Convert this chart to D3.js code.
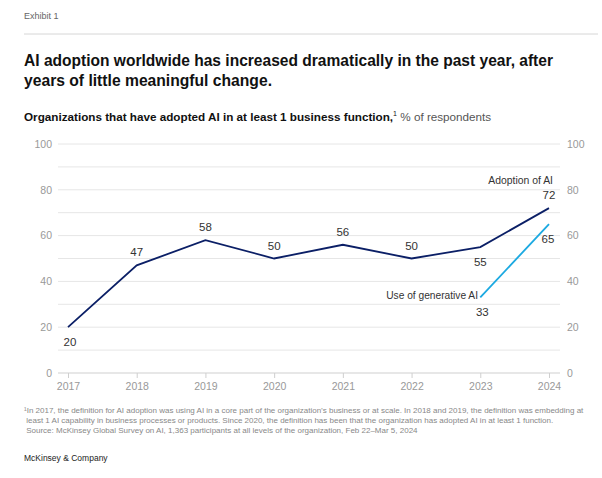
<!DOCTYPE html>
<html>
<head>
<meta charset="utf-8">
<script src="https://cdn.jsdelivr.net/npm/d3@7"></script>
<style>
  body { margin: 0; background: #fff; }
  svg { font-family: "Liberation Sans", Arial, sans-serif; }
</style>
</head>
<body>
<script>
// values
var years = [2017, 2018, 2019, 2020, 2021, 2022, 2023, 2024];
var adoption = [20, 47, 58, 50, 56, 50, 55, 72];
var genYears = [2023, 2024];
var genAI = [33, 65];
var yTicks = [0, 20, 40, 60, 80, 100];
var gridVals = [10, 20, 30, 40, 50, 60, 70, 80, 90, 100];
// where each value label sits: above or below the point
var adoptPos = ["below", "above", "above", "above", "above", "above", "below", "above"];
var genPos = ["below", "below"];

var W = 602, H = 478;
var svg = d3.select("body").append("svg").attr("width", W).attr("height", H);

var x = d3.scalePoint().domain(years).range([68, 549]);
var y = d3.scaleLinear().domain([0, 100]).range([373, 144]);

// header
svg.append("text").attr("x", 24).attr("y", 19).attr("font-size", 9).attr("fill", "#666").text("Exhibit 1");
svg.append("line").attr("x1", 24).attr("x2", 598).attr("y1", 34).attr("y2", 34).attr("stroke", "#d6d6d6");

var title = svg.append("text").attr("x", 24).attr("font-size", 16.5).attr("font-weight", "bold").attr("fill", "#111");
title.append("tspan").attr("x", 24).attr("y", 66).attr("textLength", 529).attr("lengthAdjust", "spacingAndGlyphs")
  .text("AI adoption worldwide has increased dramatically in the past year, after");
title.append("tspan").attr("x", 24).attr("y", 86).attr("textLength", 248).attr("lengthAdjust", "spacingAndGlyphs")
  .text("years of little meaningful change.");

var sub = svg.append("text").attr("x", 24).attr("y", 121).attr("font-size", 11.7).attr("fill", "#111");
sub.append("tspan").attr("font-weight", "bold").text("Organizations that have adopted AI in at least 1 business function,");
sub.append("tspan").attr("font-size", 7).attr("dy", -5).text("1");
sub.append("tspan").attr("dy", 5).attr("fill", "#555").text(" % of respondents");

// grid
svg.append("g").selectAll("line").data(gridVals).join("line")
  .attr("x1", 58).attr("x2", 560)
  .attr("y1", function(d) { return y(d); }).attr("y2", function(d) { return y(d); })
  .attr("stroke", "#e6e6e6");

// y axes, left and right
var yl = svg.append("g").attr("transform", "translate(58,0)")
  .call(d3.axisLeft(y).tickValues(yTicks).tickSize(0).tickPadding(6));
var yr = svg.append("g").attr("transform", "translate(560,0)")
  .call(d3.axisRight(y).tickValues(yTicks).tickSize(0).tickPadding(7));
[yl, yr].forEach(function(g) {
  g.select(".domain").remove();
  g.selectAll("text").attr("font-size", 10.5).attr("fill", "#999").attr("font-family", "Liberation Sans, Arial, sans-serif");
});

// x axis
var xa = svg.append("g").attr("transform", "translate(0," + y(0) + ")")
  .call(d3.axisBottom(x).tickSize(5).tickPadding(5).tickFormat(d3.format("d")));
xa.select(".domain").attr("d", "M58,0H560").attr("stroke", "#cfcfcf");
xa.selectAll(".tick line").attr("stroke", "#cfcfcf");
xa.selectAll("text").attr("font-size", 10.5).attr("fill", "#999").attr("font-family", "Liberation Sans, Arial, sans-serif");

var line = d3.line().x(function(d) { return x(d[0]); }).y(function(d) { return y(d[1]); });

var adoptData = years.map(function(yr, i) { return [yr, adoption[i]]; });
var genData = genYears.map(function(yr, i) { return [yr, genAI[i]]; });

svg.append("path").datum(adoptData).attr("d", line).attr("fill", "none")
  .attr("stroke", "#0b1f66").attr("stroke-width", 1.8);
svg.append("path").datum(genData).attr("d", line).attr("fill", "none")
  .attr("stroke", "#1ba9e1").attr("stroke-width", 1.8);

function labels(data, pos, dxs) {
  svg.append("g").selectAll("text").data(data).join("text")
    .attr("x", function(d, i) { return x(d[0]) + (dxs ? dxs[i] : 0); })
    .attr("y", function(d, i) { return y(d[1]) + (pos[i] == "above" ? -9 : 19); })
    .attr("text-anchor", "middle").attr("font-size", 11.5).attr("fill", "#333")
    .text(function(d) { return d[1]; });
}
labels(adoptData, adoptPos, [2, 0, 0, 0, 0, 0, 0, 0]);
labels(genData, genPos, [2, -1]);

svg.append("text").attr("x", 553).attr("y", y(72) - 24).attr("text-anchor", "end")
  .attr("font-size", 10.4).attr("fill", "#333").text("Adoption of AI");
svg.append("text").attr("x", 478).attr("y", y(33) + 2).attr("text-anchor", "end")
  .attr("font-size", 10.2).attr("fill", "#333").text("Use of generative AI");

// footnote
var notes = [
  "\u00b9In 2017, the definition for AI adoption was using AI in a core part of the organization\u2019s business or at scale. In 2018 and 2019, the definition was embedding at",
  " least 1 AI capability in business processes or products. Since 2020, the definition has been that the organization has adopted AI in at least 1 function.",
  " Source: McKinsey Global Survey on AI, 1,363 participants at all levels of the organization, Feb 22\u2013Mar 5, 2024"
];
svg.append("g").selectAll("text").data(notes).join("text")
  .attr("x", 24).attr("y", function(d, i) { return 413 + i * 10; })
  .attr("font-size", 8).attr("fill", "#888").attr("xml:space", "preserve")
  .text(function(d) { return d; });

svg.append("text").attr("x", 24).attr("y", 461).attr("font-size", 8.5).attr("fill", "#222").text("McKinsey & Company");
</script>
</body>
</html>
